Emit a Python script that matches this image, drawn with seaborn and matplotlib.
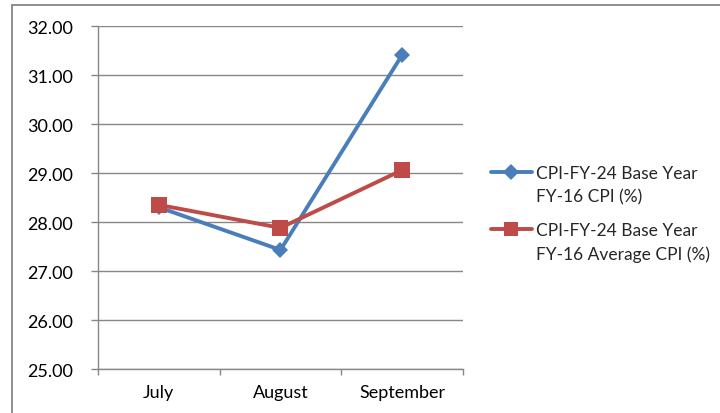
#!/usr/bin/env python3
import pandas as pd
import seaborn as sns
import matplotlib.pyplot as plt
from matplotlib.lines import Line2D
from matplotlib.patches import Rectangle
from matplotlib.ticker import FormatStrFormatter, FixedLocator

months = ['July', 'August', 'September']
cpi_base = [28.30, 27.43, 31.41]
cpi_avg = [28.35, 27.88, 29.06]
series_names = ['CPI-FY-24 Base Year FY-16 CPI (%)',
                'CPI-FY-24 Base Year FY-16 Average CPI (%)']
legend_lines = [('CPI-FY-24 Base Year', 'FY-16 CPI (%)'),
                ('CPI-FY-24 Base Year', 'FY-16 Average CPI (%)')]

df = pd.DataFrame({
    'month': months * 2,
    'value': cpi_base + cpi_avg,
    'series': [series_names[0]] * 3 + [series_names[1]] * 3,
})

sns.set_theme(style='white')
plt.rcParams['font.family'] = ['Lato', 'DejaVu Sans']

fig = plt.figure(figsize=(7.2, 4.14), dpi=100)
ax = fig.add_axes([98 / 720, 1 - 370 / 414, 365 / 720, 343 / 414])

colors = {series_names[0]: '#4A7EBB', series_names[1]: '#BE4B48'}
markers = {series_names[0]: 'D', series_names[1]: 's'}
sizes = {series_names[0]: 8.5, series_names[1]: 11}
for name in series_names:
    sub = df[df.series == name]
    sns.lineplot(data=sub, x='month', y='value', color=colors[name], marker=markers[name],
                 linewidth=2.8, markersize=sizes[name], markeredgewidth=0,
                 sort=False, ax=ax)

ax.set_ylim(25, 32)
ax.set_xlim(-0.5, 2.5)
ax.set_yticks(range(25, 33))
ax.yaxis.set_major_formatter(FormatStrFormatter('%.2f'))
ax.yaxis.grid(True, color='#878787', linewidth=1)
ax.set_axisbelow(True)
ax.set_xlabel('')
ax.set_ylabel('')

ax.xaxis.set_minor_locator(FixedLocator([-0.5, 0.5, 1.5, 2.5]))
ax.tick_params(axis='x', which='major', length=0, pad=11, labelsize=13, colors='black')
ax.tick_params(axis='x', which='minor', length=4, width=1, color='#878787', direction='out', bottom=True)
ax.tick_params(axis='y', length=5, width=1, color='#878787', direction='out', left=True,
               pad=13, labelsize=13, labelcolor='black')

for side in ['top', 'right']:
    ax.spines[side].set_visible(False)
for side in ['left', 'bottom']:
    ax.spines[side].set_color('#878787')
    ax.spines[side].set_linewidth(1)

# Excel-style legend: handle sits beside the first line of each two-line label
blank = Line2D([], [], linestyle='none', marker='none')
for i, name in enumerate(series_names):
    h = Line2D([], [], color=colors[name], marker=markers[name], linewidth=2.8,
               markersize=sizes[name] * 0.9, markeredgewidth=0)
    y_top = [166, 223][i]
    fig.legend([h, blank], list(legend_lines[i]), loc='upper left',
               bbox_to_anchor=(491 / 720, 1 - y_top / 414), frameon=False,
               fontsize=12.5, handlelength=2.35, handletextpad=0.25,
               labelspacing=0.45, borderpad=0, borderaxespad=0)

fig.patches.append(Rectangle((12 / 720, -0.05), 1.2, 1 - 6 / 414 + 0.05,
                             transform=fig.transFigure, fill=False,
                             edgecolor='#868686', linewidth=1.3))

fig.savefig('out.png', dpi=100)
